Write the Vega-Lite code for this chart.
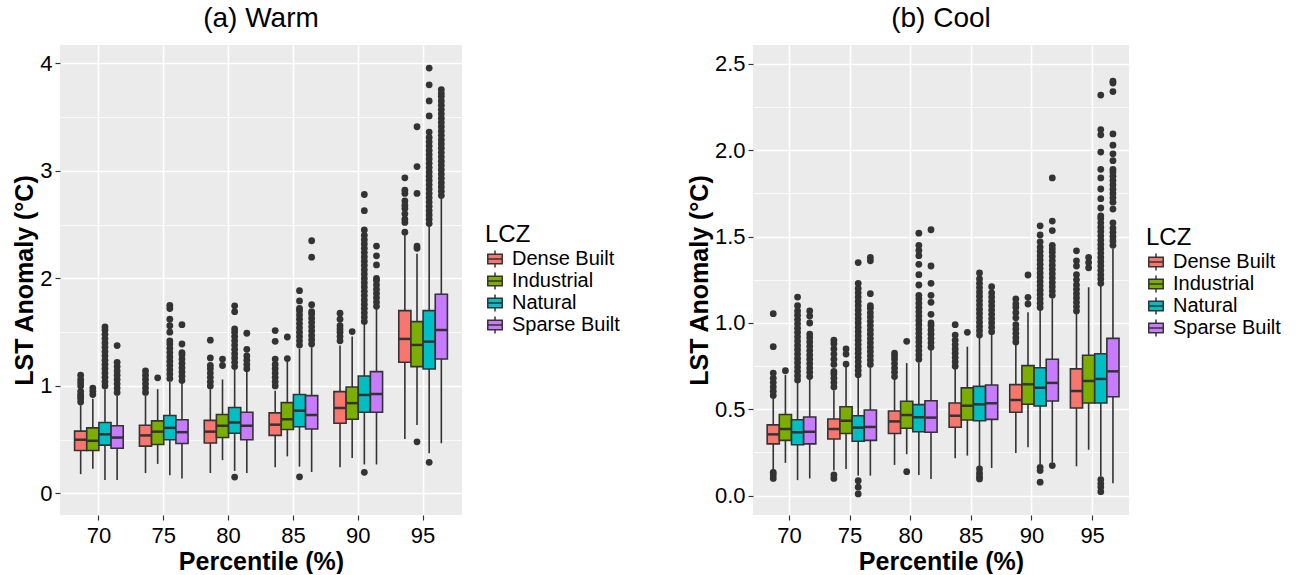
{
  "$schema": "https://vega.github.io/schema/vega-lite/v6.json",
  "background": "white",
  "padding": {"left": 12, "top": 5, "right": 0, "bottom": 0},
  "spacing": 67,
  "datasets": {
    "warmBox": [
      {"p":"70","g":"Dense Built","lo":0.18,"q1":0.40,"med":0.50,"q3":0.58,"hi":0.82},
      {"p":"70","g":"Industrial","lo":0.23,"q1":0.40,"med":0.49,"q3":0.61,"hi":0.88},
      {"p":"70","g":"Natural","lo":0.125,"q1":0.45,"med":0.55,"q3":0.66,"hi":0.97},
      {"p":"70","g":"Sparse Built","lo":0.125,"q1":0.42,"med":0.52,"q3":0.63,"hi":0.91},
      {"p":"75","g":"Dense Built","lo":0.19,"q1":0.44,"med":0.54,"q3":0.635,"hi":0.91},
      {"p":"75","g":"Industrial","lo":0.275,"q1":0.455,"med":0.575,"q3":0.675,"hi":0.97},
      {"p":"75","g":"Natural","lo":0.17,"q1":0.50,"med":0.61,"q3":0.725,"hi":1.04},
      {"p":"75","g":"Sparse Built","lo":0.14,"q1":0.465,"med":0.57,"q3":0.685,"hi":1.02},
      {"p":"80","g":"Dense Built","lo":0.19,"q1":0.47,"med":0.575,"q3":0.68,"hi":0.97},
      {"p":"80","g":"Industrial","lo":0.31,"q1":0.52,"med":0.63,"q3":0.735,"hi":1.06},
      {"p":"80","g":"Natural","lo":0.21,"q1":0.56,"med":0.66,"q3":0.80,"hi":1.15},
      {"p":"80","g":"Sparse Built","lo":0.19,"q1":0.50,"med":0.63,"q3":0.755,"hi":1.13},
      {"p":"85","g":"Dense Built","lo":0.245,"q1":0.54,"med":0.64,"q3":0.75,"hi":0.955},
      {"p":"85","g":"Industrial","lo":0.345,"q1":0.595,"med":0.69,"q3":0.845,"hi":1.235},
      {"p":"85","g":"Natural","lo":0.25,"q1":0.62,"med":0.77,"q3":0.92,"hi":1.345},
      {"p":"85","g":"Sparse Built","lo":0.20,"q1":0.60,"med":0.73,"q3":0.91,"hi":1.36},
      {"p":"90","g":"Dense Built","lo":0.245,"q1":0.653,"med":0.795,"q3":0.947,"hi":1.375},
      {"p":"90","g":"Industrial","lo":0.33,"q1":0.69,"med":0.84,"q3":0.99,"hi":1.46},
      {"p":"90","g":"Natural","lo":0.27,"q1":0.755,"med":0.916,"q3":1.093,"hi":1.577},
      {"p":"90","g":"Sparse Built","lo":0.27,"q1":0.755,"med":0.925,"q3":1.133,"hi":1.716},
      {"p":"95","g":"Dense Built","lo":0.507,"q1":1.22,"med":1.437,"q3":1.70,"hi":2.40},
      {"p":"95","g":"Industrial","lo":0.637,"q1":1.18,"med":1.381,"q3":1.598,"hi":2.23},
      {"p":"95","g":"Natural","lo":0.374,"q1":1.158,"med":1.412,"q3":1.70,"hi":2.48},
      {"p":"95","g":"Sparse Built","lo":0.467,"q1":1.251,"med":1.52,"q3":1.853,"hi":2.74}
    ],
    "warmOut": [
      {"p":"70","g":"Dense Built","vals":[0.85,0.88,0.90,0.92,0.95,1.00,1.03,1.06,1.10]},
      {"p":"70","g":"Industrial","vals":[0.92,0.95,0.98]},
      {"p":"70","g":"Natural","vals":[1.00,1.04,1.08,1.12,1.16,1.20,1.24,1.28,1.32,1.36,1.40,1.44,1.48,1.52,1.55]},
      {"p":"70","g":"Sparse Built","vals":[0.94,0.98,1.02,1.06,1.10,1.14,1.18,1.22,1.375]},
      {"p":"75","g":"Dense Built","vals":[0.94,0.98,1.02,1.06,1.10,1.14]},
      {"p":"75","g":"Industrial","vals":[1.075]},
      {"p":"75","g":"Natural","vals":[1.07,1.11,1.15,1.19,1.23,1.27,1.31,1.35,1.39,1.42,1.50,1.56,1.62,1.72,1.75]},
      {"p":"75","g":"Sparse Built","vals":[1.05,1.09,1.13,1.17,1.21,1.25,1.29,1.31,1.39,1.57]},
      {"p":"80","g":"Dense Built","vals":[1.00,1.04,1.08,1.12,1.16,1.19,1.26,1.425]},
      {"p":"80","g":"Industrial","vals":[1.19,1.25]},
      {"p":"80","g":"Natural","vals":[0.153,1.18,1.22,1.26,1.30,1.34,1.38,1.42,1.46,1.50,1.53,1.69,1.745]},
      {"p":"80","g":"Sparse Built","vals":[1.16,1.20,1.24,1.28,1.34,1.49]},
      {"p":"85","g":"Dense Built","vals":[1.00,1.04,1.08,1.12,1.16,1.20,1.25,1.415,1.515]},
      {"p":"85","g":"Industrial","vals":[1.254,1.455]},
      {"p":"85","g":"Natural","vals":[0.155,1.38,1.42,1.46,1.50,1.54,1.58,1.62,1.66,1.70,1.72,1.79,1.886]},
      {"p":"85","g":"Sparse Built","vals":[1.39,1.43,1.47,1.51,1.55,1.59,1.63,1.67,1.69,1.756,2.197,2.35]},
      {"p":"90","g":"Dense Built","vals":[1.42,1.46,1.50,1.53,1.56,1.62,1.676]},
      {"p":"90","g":"Industrial","vals":[1.505]},
      {"p":"90","g":"Natural","vals":[0.197,1.60,1.64,1.68,1.72,1.76,1.80,1.84,1.88,1.92,1.96,2.00,2.04,2.08,2.12,2.16,2.20,2.24,2.28,2.32,2.36,2.40,2.45,2.63,2.78]},
      {"p":"90","g":"Sparse Built","vals":[1.74,1.78,1.82,1.86,1.90,1.94,1.98,2.00,2.125,2.21,2.30]},
      {"p":"95","g":"Dense Built","vals":[2.43,2.52,2.55,2.60,2.65,2.68,2.72,2.79,2.82,2.935]},
      {"p":"95","g":"Industrial","vals":[0.48,2.28,2.30,2.79,3.04,3.41]},
      {"p":"95","g":"Natural","vals":[0.29,2.51,2.55,2.59,2.63,2.67,2.71,2.75,2.79,2.83,2.87,2.91,2.95,2.99,3.03,3.07,3.11,3.15,3.19,3.23,3.27,3.31,3.36,3.51,3.65,3.80,3.955]},
      {"p":"95","g":"Sparse Built","vals":[2.77,2.81,2.85,2.89,2.93,2.97,3.01,3.05,3.09,3.13,3.17,3.21,3.25,3.29,3.33,3.37,3.41,3.45,3.49,3.53,3.57,3.61,3.65,3.69,3.72,3.756]}
    ],
    "coolBox": [
      {"p":"70","g":"Dense Built","lo":0.145,"q1":0.30,"med":0.355,"q3":0.41,"hi":0.564},
      {"p":"70","g":"Industrial","lo":0.19,"q1":0.32,"med":0.386,"q3":0.47,"hi":0.70},
      {"p":"70","g":"Natural","lo":0.09,"q1":0.295,"med":0.367,"q3":0.44,"hi":0.656},
      {"p":"70","g":"Sparse Built","lo":0.10,"q1":0.30,"med":0.37,"q3":0.456,"hi":0.676},
      {"p":"75","g":"Dense Built","lo":0.145,"q1":0.328,"med":0.386,"q3":0.444,"hi":0.61},
      {"p":"75","g":"Industrial","lo":0.155,"q1":0.36,"med":0.434,"q3":0.515,"hi":0.757},
      {"p":"75","g":"Natural","lo":0.116,"q1":0.315,"med":0.394,"q3":0.463,"hi":0.686},
      {"p":"75","g":"Sparse Built","lo":0.116,"q1":0.32,"med":0.398,"q3":0.496,"hi":0.743},
      {"p":"80","g":"Dense Built","lo":0.178,"q1":0.36,"med":0.43,"q3":0.49,"hi":0.676},
      {"p":"80","g":"Industrial","lo":0.24,"q1":0.39,"med":0.467,"q3":0.547,"hi":0.768},
      {"p":"80","g":"Natural","lo":0.12,"q1":0.37,"med":0.454,"q3":0.527,"hi":0.77},
      {"p":"80","g":"Sparse Built","lo":0.097,"q1":0.367,"med":0.452,"q3":0.55,"hi":0.85},
      {"p":"85","g":"Dense Built","lo":0.217,"q1":0.396,"med":0.463,"q3":0.537,"hi":0.743},
      {"p":"85","g":"Industrial","lo":0.232,"q1":0.438,"med":0.521,"q3":0.624,"hi":0.863},
      {"p":"85","g":"Natural","lo":0.17,"q1":0.434,"med":0.529,"q3":0.633,"hi":0.917},
      {"p":"85","g":"Sparse Built","lo":0.16,"q1":0.442,"med":0.535,"q3":0.641,"hi":0.936},
      {"p":"90","g":"Dense Built","lo":0.247,"q1":0.483,"med":0.554,"q3":0.643,"hi":0.878},
      {"p":"90","g":"Industrial","lo":0.28,"q1":0.529,"med":0.645,"q3":0.753,"hi":1.062},
      {"p":"90","g":"Natural","lo":0.183,"q1":0.519,"med":0.625,"q3":0.741,"hi":1.081},
      {"p":"90","g":"Sparse Built","lo":0.193,"q1":0.548,"med":0.653,"q3":0.79,"hi":1.139},
      {"p":"95","g":"Dense Built","lo":0.17,"q1":0.508,"med":0.606,"q3":0.734,"hi":1.062},
      {"p":"95","g":"Industrial","lo":0.266,"q1":0.537,"med":0.664,"q3":0.813,"hi":1.207},
      {"p":"95","g":"Natural","lo":0.112,"q1":0.537,"med":0.676,"q3":0.822,"hi":1.22},
      {"p":"95","g":"Sparse Built","lo":0.072,"q1":0.573,"med":0.72,"q3":0.911,"hi":1.43}
    ],
    "coolOut": [
      {"p":"70","g":"Dense Built","vals":[0.10,0.12,0.135,0.58,0.605,0.63,0.655,0.68,0.71,0.863,1.054]},
      {"p":"70","g":"Industrial","vals":[0.724]},
      {"p":"70","g":"Natural","vals":[0.67,0.695,0.72,0.745,0.77,0.795,0.82,0.845,0.87,0.895,0.92,0.945,0.97,0.995,1.02,1.045,1.07,1.10,1.15]},
      {"p":"70","g":"Sparse Built","vals":[0.69,0.715,0.74,0.765,0.79,0.815,0.84,0.865,0.89,0.915,0.936,1.0,1.04,1.07]},
      {"p":"75","g":"Dense Built","vals":[0.10,0.12,0.63,0.655,0.68,0.705,0.72,0.76,0.79,0.82,0.85,0.88,0.90]},
      {"p":"75","g":"Industrial","vals":[0.762,0.82,0.85]},
      {"p":"75","g":"Natural","vals":[0.01,0.049,0.087,0.70,0.725,0.75,0.775,0.80,0.825,0.85,0.875,0.90,0.925,0.95,0.975,1.00,1.025,1.05,1.075,1.10,1.125,1.15,1.175,1.20,1.23,1.35]},
      {"p":"75","g":"Sparse Built","vals":[0.76,0.785,0.81,0.835,0.86,0.885,0.91,0.935,0.96,0.985,1.01,1.035,1.06,1.085,1.10,1.17,1.36,1.38]},
      {"p":"80","g":"Dense Built","vals":[0.69,0.715,0.74,0.765,0.79,0.81,0.826]},
      {"p":"80","g":"Industrial","vals":[0.139,0.894]},
      {"p":"80","g":"Natural","vals":[0.79,0.815,0.84,0.865,0.89,0.915,0.94,0.965,0.99,1.015,1.04,1.065,1.09,1.115,1.14,1.16,1.22,1.28,1.34,1.39,1.42,1.45,1.52]},
      {"p":"80","g":"Sparse Built","vals":[0.86,0.885,0.91,0.935,0.96,0.985,1.0,1.05,1.12,1.16,1.23,1.33,1.54]},
      {"p":"85","g":"Dense Built","vals":[0.75,0.775,0.80,0.825,0.85,0.875,0.90,0.93,0.99]},
      {"p":"85","g":"Industrial","vals":[0.946]},
      {"p":"85","g":"Natural","vals":[0.097,0.11,0.13,0.155,0.93,0.955,0.98,1.005,1.03,1.055,1.08,1.105,1.13,1.155,1.18,1.205,1.23,1.255,1.29]},
      {"p":"85","g":"Sparse Built","vals":[0.95,0.975,1.0,1.025,1.05,1.075,1.10,1.125,1.15,1.175,1.21]},
      {"p":"90","g":"Dense Built","vals":[0.89,0.915,0.94,0.965,0.99,1.03,1.06,1.09,1.11,1.139]},
      {"p":"90","g":"Industrial","vals":[1.11,1.149,1.278]},
      {"p":"90","g":"Natural","vals":[0.078,0.145,0.164,1.09,1.115,1.14,1.165,1.19,1.215,1.24,1.265,1.29,1.315,1.34,1.365,1.39,1.415,1.44,1.47,1.51,1.563]},
      {"p":"90","g":"Sparse Built","vals":[0.174,1.16,1.185,1.21,1.235,1.26,1.285,1.31,1.335,1.36,1.385,1.41,1.43,1.45,1.535,1.59,1.84]},
      {"p":"95","g":"Dense Built","vals":[1.07,1.095,1.12,1.145,1.17,1.195,1.22,1.25,1.28,1.33,1.36,1.418]},
      {"p":"95","g":"Industrial","vals":[1.32,1.35,1.38]},
      {"p":"95","g":"Natural","vals":[0.023,0.05,0.07,0.093,1.23,1.255,1.28,1.305,1.33,1.355,1.38,1.405,1.43,1.455,1.48,1.505,1.53,1.555,1.58,1.605,1.62,1.666,1.72,1.776,1.84,1.89,1.99,2.09,2.12,2.32]},
      {"p":"95","g":"Sparse Built","vals":[1.45,1.475,1.50,1.525,1.55,1.58,1.66,1.70,1.725,1.75,1.775,1.80,1.825,1.85,1.875,1.89,1.94,1.98,2.03,2.095,2.34,2.39,2.40]}
    ]
  },
  "hconcat": [
    {
      "title": {"text": "(a) Warm"},
      "width": 402,
      "height": 470,
      "layer": [
        {
          "data": {"name": "warmBox"},
          "mark": {"type": "rule", "color": "#333333", "strokeWidth": 1.6},
          "encoding": {
            "x": {"field": "p", "type": "nominal", "title": "Percentile (%)",
                  "scale": {"type": "band", "paddingInner": 0, "paddingOuter": 0.1},
                  "axis": {"labelAngle": 0, "grid": true, "gridWidth": 1.6, "bandPosition": 0.5, "labelPadding": 5, "titlePadding": 3}},
            "xOffset": {"field": "g", "type": "nominal", "scale": {"paddingInner": 0, "paddingOuter": 0.667}},
            "y": {"field": "lo", "type": "quantitative", "title": "LST Anomaly (°C)",
                  "scale": {"domain": [-0.2, 4.17], "nice": false, "zero": false},
                  "axis": {"values": [0, 0.5, 1, 1.5, 2, 2.5, 3, 3.5, 4], "format": ".0f",
                           "labelExpr": "datum.value % 1 === 0 ? datum.label : ''",
                           "gridWidth": {"condition": {"test": "datum.value % 1 !== 0", "value": 0.8}, "value": 1.6},
                           "tickOpacity": {"condition": {"test": "datum.value % 1 !== 0", "value": 0}, "value": 1},
                           "labelPadding": 3, "titlePadding": 2}},
            "y2": {"field": "hi"}
          }
        },
        {
          "data": {"name": "warmBox"},
          "mark": {"type": "bar", "stroke": "#333333", "strokeWidth": 1.6},
          "encoding": {
            "x": {"field": "p", "type": "nominal", "title": "Percentile (%)"},
            "xOffset": {"field": "g", "type": "nominal"},
            "y": {"field": "q1", "type": "quantitative", "title": "LST Anomaly (°C)"},
            "y2": {"field": "q3"},
            "color": {"field": "g", "type": "nominal", "title": "LCZ",
                      "scale": {"domain": ["Dense Built", "Industrial", "Natural", "Sparse Built"], "range": ["#F8766D", "#7CAE00", "#00BFC4", "#C77CFF"]},
                      "legend": {"title": "LCZ", "orient": "none", "legendX": 425, "legendY": 178}}
          }
        },
        {
          "data": {"name": "warmBox"},
          "mark": {"type": "tick", "color": "#333333", "thickness": 2.5, "size": 12, "opacity": 1},
          "encoding": {
            "x": {"field": "p", "type": "nominal", "title": "Percentile (%)"},
            "xOffset": {"field": "g", "type": "nominal"},
            "y": {"field": "med", "type": "quantitative", "title": "LST Anomaly (°C)"}
          }
        },
        {
          "data": {"name": "warmOut"},
          "transform": [{"flatten": ["vals"], "as": ["v"]}],
          "mark": {"type": "circle", "color": "#333333", "opacity": 1, "size": 46},
          "encoding": {
            "x": {"field": "p", "type": "nominal", "title": "Percentile (%)"},
            "xOffset": {"field": "g", "type": "nominal"},
            "y": {"field": "v", "type": "quantitative", "title": "LST Anomaly (°C)"}
          }
        }
      ]
    },
    {
      "title": {"text": "(b) Cool"},
      "width": 376,
      "height": 470,
      "layer": [
        {
          "data": {"name": "coolBox"},
          "mark": {"type": "rule", "color": "#333333", "strokeWidth": 1.6},
          "encoding": {
            "x": {"field": "p", "type": "nominal", "title": "Percentile (%)",
                  "scale": {"type": "band", "paddingInner": 0, "paddingOuter": 0.1},
                  "axis": {"labelAngle": 0, "grid": true, "gridWidth": 1.6, "bandPosition": 0.5, "labelPadding": 5, "titlePadding": 3}},
            "xOffset": {"field": "g", "type": "nominal", "scale": {"paddingInner": 0, "paddingOuter": 0.667}},
            "y": {"field": "lo", "type": "quantitative", "title": "LST Anomaly (°C)",
                  "scale": {"domain": [-0.112, 2.61], "nice": false, "zero": false},
                  "axis": {"values": [0, 0.25, 0.5, 0.75, 1, 1.25, 1.5, 1.75, 2, 2.25, 2.5], "format": ".1f",
                           "labelExpr": "(datum.value * 2) % 1 === 0 ? datum.label : ''",
                           "gridWidth": {"condition": {"test": "(datum.value * 2) % 1 !== 0", "value": 0.8}, "value": 1.6},
                           "tickOpacity": {"condition": {"test": "(datum.value * 2) % 1 !== 0", "value": 0}, "value": 1},
                           "labelPadding": 3, "titlePadding": 2}},
            "y2": {"field": "hi"}
          }
        },
        {
          "data": {"name": "coolBox"},
          "mark": {"type": "bar", "stroke": "#333333", "strokeWidth": 1.6},
          "encoding": {
            "x": {"field": "p", "type": "nominal", "title": "Percentile (%)"},
            "xOffset": {"field": "g", "type": "nominal"},
            "y": {"field": "q1", "type": "quantitative", "title": "LST Anomaly (°C)"},
            "y2": {"field": "q3"},
            "color": {"field": "g", "type": "nominal", "title": "LCZ",
                      "scale": {"domain": ["Dense Built", "Industrial", "Natural", "Sparse Built"], "range": ["#F8766D", "#7CAE00", "#00BFC4", "#C77CFF"]},
                      "legend": {"title": "LCZ", "orient": "none", "legendX": 393, "legendY": 181}}
          }
        },
        {
          "data": {"name": "coolBox"},
          "mark": {"type": "tick", "color": "#333333", "thickness": 2.5, "size": 11.3, "opacity": 1},
          "encoding": {
            "x": {"field": "p", "type": "nominal", "title": "Percentile (%)"},
            "xOffset": {"field": "g", "type": "nominal"},
            "y": {"field": "med", "type": "quantitative", "title": "LST Anomaly (°C)"}
          }
        },
        {
          "data": {"name": "coolOut"},
          "transform": [{"flatten": ["vals"], "as": ["v"]}],
          "mark": {"type": "circle", "color": "#333333", "opacity": 1, "size": 46},
          "encoding": {
            "x": {"field": "p", "type": "nominal", "title": "Percentile (%)"},
            "xOffset": {"field": "g", "type": "nominal"},
            "y": {"field": "v", "type": "quantitative", "title": "LST Anomaly (°C)"}
          }
        }
      ]
    }
  ],
  "resolve": {"scale": {"color": "independent"}, "legend": {"color": "independent"}},
  "config": {
    "font": "Liberation Sans",
    "view": {"fill": "#EBEBEB", "stroke": null},
    "axis": {
      "labelFont": "Liberation Sans", "labelFontSize": 22, "labelColor": "#000000",
      "titleFont": "Liberation Sans", "titleFontSize": 25, "titleFontWeight": "bold", "titleColor": "#000000",
      "tickColor": "#333333", "tickSize": 5, "tickWidth": 1.2, "domain": false, "gridColor": "#FFFFFF"
    },
    "title": {"font": "Liberation Sans", "fontSize": 28, "fontWeight": "normal", "color": "#000000", "anchor": "middle", "offset": 12},
    "legend": {
      "titleFont": "Liberation Sans", "titleFontSize": 24, "titleFontWeight": "normal", "titleColor": "#000000", "titlePadding": 2,
      "labelFont": "Liberation Sans", "labelFontSize": 20, "labelColor": "#000000", "labelOffset": 7,
      "symbolType": "M-0.85,-0.55H0.85V0.55H-0.85Z M-0.85,0H0.85 M0,-1V-0.55 M0,0.55V1",
      "symbolSize": 289, "symbolStrokeColor": "#333333", "symbolStrokeWidth": 1.5, "symbolOpacity": 1,
      "rowPadding": -2
    }
  }
}
